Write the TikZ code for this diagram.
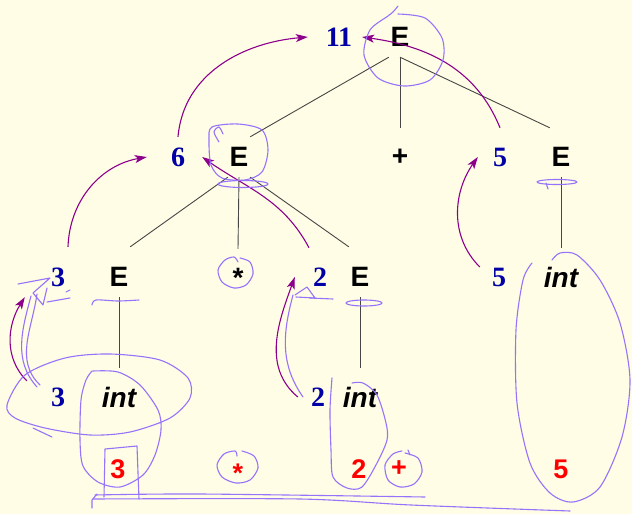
\documentclass[tikz,border=0pt]{standalone}
\usepackage{fontspec}
\setmainfont{Liberation Sans}
\newfontfamily\serifnum{Liberation Serif}
\usetikzlibrary{arrows.meta}

\definecolor{paper}{RGB}{255,253,230}
\definecolor{valblue}{RGB}{0,0,165}
\definecolor{lexred}{RGB}{255,0,0}
\definecolor{treegray}{RGB}{70,70,70}
\definecolor{passpurple}{RGB}{140,0,140}
\definecolor{penviolet}{RGB}{150,115,250}

\tikzset{
  sym/.style={font=\fontsize{28}{30}\selectfont\bfseries, inner sep=0pt, minimum width=22pt, minimum height=40pt},
  tok/.style={sym, minimum height=58pt},
  tokint/.style={tok, font=\fontsize{28}{30}\selectfont\bfseries\itshape},
  val/.style={font=\fontsize{28}{30}\serifnum\bfseries, text=valblue, inner sep=0pt, minimum width=62pt, minimum height=40pt},
  lex/.style={font=\fontsize{27}{30}\selectfont\bfseries, text=lexred, inner sep=0pt},
  branch/.style={draw=treegray, line width=0.9pt},
  pass/.style={draw=passpurple, line width=1.1pt, -{Stealth[length=12pt,width=8pt,inset=3pt]}},
  pen/.style={draw=penviolet, line width=1.1pt, line cap=round, line join=round}
}

\begin{document}
\begin{tikzpicture}[x=1pt, y=-1pt]
  \fill[paper] (0,0) rectangle (632,514);
  \useasboundingbox (0,0) rectangle (632,514);
  % parse tree
  \node[val] (val11) at (339,37) {11};
  \node[sym] (eTop) at (400,37) {E};
  \node[val] (val6) at (178,157) {6};
  \node[sym] (eL) at (239,157) {E};
  \node[tok] (plus) at (400,157) {+};
  \node[val] (val5) at (500,157) {5};
  \node[sym] (eR) at (561,157) {E};
  \node[val] (val3) at (58,277) {3};
  \node[sym] (eLL) at (119,277) {E};
  \node[tok] (star) at (238,278) {*};
  \node[val] (val2) at (320,277) {2};
  \node[sym] (eLR) at (360,277) {E};
  \node[val] (val5b) at (499,277) {5};
  \node[tokint] (intR) at (561,277) {int};
  \node[val] (val3b) at (58,397) {3};
  \node[tokint] (intL) at (119,397) {int};
  \node[val] (val2b) at (318,397) {2};
  \node[tokint] (intM) at (360,397) {int};
  % tokens
  \node[lex] (lex3) at (118,469) {3};
  \node[lex] (lexStar) at (238,473) {*};
  \node[lex] (lex2) at (359,469) {2};
  \node[lex] (lexPlus) at (399,469) {+};
  \node[lex] (lex5) at (561,469) {5};
  \draw[branch] (eTop.south west) -- (eL.north east);
  \draw[branch] (eTop.south) -- (plus.north);
  \draw[branch] (eTop.south) -- ([yshift=9pt]eR.north west);
  \draw[branch] (eL.south west) -- ([yshift=10pt]eLL.north east);
  \draw[branch] (eL.south) -- (star.north);
  \draw[branch] (eL.south east) -- ([yshift=10pt]eLR.north west);
  \draw[branch] (eLL.south) -- (intL.north);
  \draw[branch] (eLR.south) -- (intM.north);
  \draw[branch] (eR.south) -- (intR.north);
  % values passed up
  \draw[pass] (val6.north) to[out=85,in=185] (val11.west);
  \draw[pass] ([yshift=9pt]val5.north) to[out=112,in=-8] ([xshift=-8pt]val11.east);
  \draw[pass] ([shift={(10pt,10pt)}]val3.north) to[out=88,in=190] (val6.west);
  \draw[pass] ([shift={(-11pt,9pt)}]val2.north) to[out=118,in=-35] ([xshift=-7pt]val6.east);
  \draw[pass] ([yshift=-4pt]val3b.north west) to[out=135,in=-122] ([xshift=-2pt]val3.south west);
  \draw[pass] ([xshift=11pt]val2b.west) to[out=140,in=-110] ([xshift=6pt]val2.west);
  \draw[pass] ([shift={(12pt,10pt)}]val5b.west) to[out=135,in=-125] ([xshift=9pt]val5.west);
  % ink
  \draw[pen] plot[smooth] coordinates {(398,14) (425,18) (442,38) (443,60) (430,80) (404,86) (378,78) (364,55) (370,30) (388,16) (393,12) (398,6)};
  \draw[pen] plot[smooth cycle] coordinates {(212,127) (238,124) (262,130) (268,150) (262,172) (245,180) (222,178) (211,165) (209,140)};
  \draw[pen] plot[smooth] coordinates {(219,142) (214,132) (219,127) (223,134)};
  \draw[pen] (243,184) ellipse (25 and 3.5);
  \draw[pen] plot[smooth] coordinates {(92,305) (96,300) (118,301) (139,300)};
  \draw[pen] (364,303) ellipse (18 and 3);
  \draw[pen] (557,182) ellipse (20 and 2.5);
  \draw[pen] (546,183) -- (548,189);
  \draw[pen] plot[smooth] coordinates {(240,258) (250,262) (253,274) (246,285) (234,288) (222,282) (218,270) (225,260) (234,257) (238,262)};
  % left scribbles
  \draw[pen] (37,387) to[out=132,in=-105] (31,296);
  \draw[pen] (40,385) to[out=136,in=-98] (37,294);
  \draw[pen] (18,284) -- (50,278) -- (33,293) -- (43,305) -- (47,288);
  \draw[pen] (47,302) -- (70,298);
  \draw[pen] (66,292) -- (70,290);
  \draw[pen] (303,397) to[out=125,in=-105] (293,295);
  \draw[pen] (295,295) -- (307,287) -- (315,298) -- (296,297);
  \draw[pen] (310,298) -- (333,299);
  \draw[pen] plot[smooth cycle] coordinates {(7,405) (25,375) (65,358) (110,354) (160,360) (188,378) (190,398) (170,418) (130,432) (90,435) (45,428) (15,418)};
  \draw[pen] (33,428) -- (52,437);
  \draw[pen] plot[smooth] coordinates {(93,371) (118,372) (140,385) (158,410) (161,430) (155,455) (143,475) (120,487) (98,482) (83,466) (80,440) (81,400) (86,380) (92,371)};
  \draw[pen] (104,497) -- (105,449) -- (137,446) -- (139,499);
  \draw[pen] plot[smooth] coordinates {(332,378) (330,410) (331,450) (333,477) (347,488) (362,487) (377,463) (387,440) (386,423) (377,395) (363,383) (352,383)};
  \draw[pen] plot[smooth] coordinates {(405,453) (418,458) (422,472) (414,484) (400,487) (388,480) (385,465) (393,454) (402,451)};
  \draw[pen] (408,450) -- (410,455);
  \draw[pen] plot[smooth] coordinates {(242,451) (254,456) (258,468) (250,480) (236,483) (222,477) (217,465) (224,454) (235,451) (237,456)};
  \draw[pen] plot[smooth] coordinates {(532,263) (523,280) (516,330) (517,403) (530,463) (550,493) (573,502) (600,487) (622,437) (630,380) (620,323) (600,280) (577,255) (560,253) (552,260)};
  \draw[pen] plot[smooth] coordinates {(95,495) (200,494) (425,497)};
  \draw[pen] plot[smooth] coordinates {(93,499) (300,499) (411,505) (570,511)};
  \draw[pen] (97,494) -- (92,500) -- (92,508);
\end{tikzpicture}
\end{document}
